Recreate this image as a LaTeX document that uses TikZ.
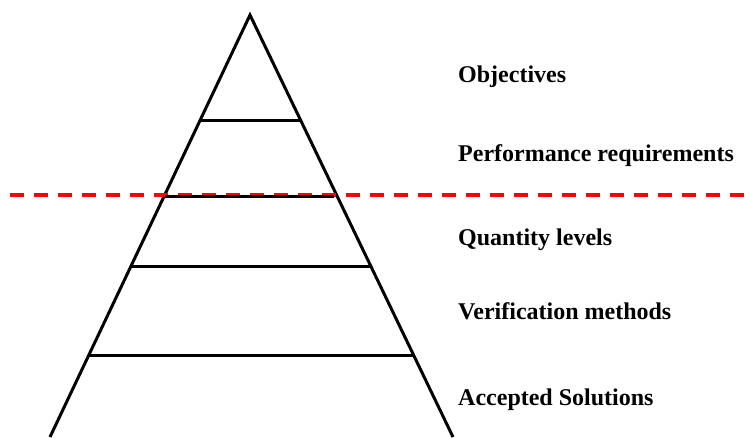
\documentclass[tikz,border=0pt]{standalone}
\usepackage{fontspec}
\setmainfont{Liberation Serif}
\begin{document}
\begin{tikzpicture}[x=1pt,y=-1pt,
  edge/.style={draw=black,line width=3pt},
  level/.style={draw=black,line width=3pt},
  divider/.style={draw=red,line width=3.8pt,dash pattern=on 14pt off 10pt},
  label/.style={anchor=base west,font=\bfseries\fontsize{24}{28}\selectfont,inner sep=0pt}]
\useasboundingbox[fill=white] (0,0) rectangle (751,437);
% pyramid outline
\coordinate (apex) at (250,15);
\coordinate (bl) at (50,437);
\coordinate (br) at (453,437);
\draw[edge,line join=miter] (bl) -- (apex) -- (br);
% dashed divider
\coordinate (d1) at (10,195);
\coordinate (d2) at (751,195);
\draw[divider] (d1) -- (d2);
% level separators
\coordinate (l1a) at (200.2,120); \coordinate (l1b) at (300.5,120);
\coordinate (l2a) at (164.5,196); \coordinate (l2b) at (333.5,196);
\coordinate (l3a) at (131,266);   \coordinate (l3b) at (371,266);
\coordinate (l4a) at (89,355);    \coordinate (l4b) at (413,355);
\draw[level] (l1a) -- (l1b);
\draw[level] (l2a) -- (l2b);
\draw[level] (l3a) -- (l3b);
\draw[level] (l4a) -- (l4b);
% labels (placed by baseline)
\node[label] (t1) at (458,82) {Objectives};
\node[label] (t2) at (458,161.5) {Performance requirements};
\node[label] (t3) at (458,245) {Quantity levels};
\node[label] (t4) at (458,319.5) {Verification methods};
\node[label] (t5) at (458,405.5) {Accepted Solutions};
\end{tikzpicture}
\end{document}
